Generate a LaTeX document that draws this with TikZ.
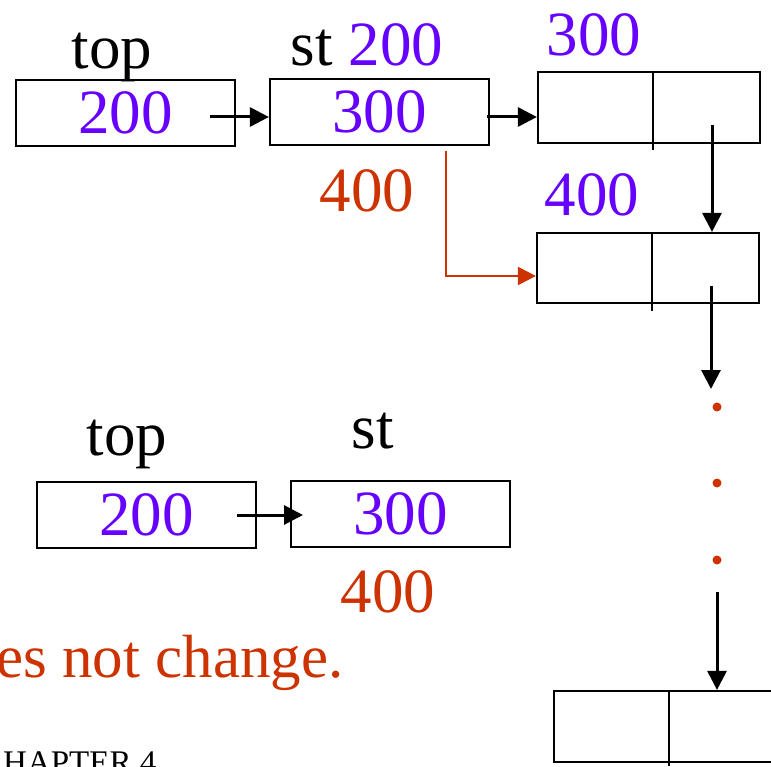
\documentclass[tikz,border=0pt]{standalone}
\usepackage{fontspec}
\setmainfont{Liberation Serif}
\usepackage{tikz}
\usetikzlibrary{arrows.meta, calc, positioning}
\definecolor{NumPurple}{RGB}{102,0,255}
\definecolor{NoteRed}{RGB}{204,51,0}

\begin{document}
\begin{tikzpicture}[x=1pt, y=-1pt,
	cell/.style={draw, line width=2.2pt, minimum width=219pt, minimum height=66pt, inner sep=0pt,
		text=NumPurple, font=\fontsize{63}{63}\selectfont},
	node2/.style={cell, minimum width=222pt, minimum height=71pt},
	lbl/.style={inner sep=0pt, anchor=base, font=\fontsize{63}{63}\selectfont},
	ptr/.style={-{Triangle[length=19pt, width=19pt]}, line width=3pt},
	redptr/.style={-{Triangle[length=18pt, width=18pt]}, line width=2.2pt, NoteRed}]

	\useasboundingbox (0,0) rectangle (771,767);

	% primera fila: top -> st -> 300
	\node[cell] (top1) at (125.5,113) {200};
	\node[cell] (st1) at (379.5,112) {300};
	\node[node2] (n300) at (649,107.5) {};
	\node[node2, minimum height=70pt] (n400) at (648,268) {};
	\node[node2] (nlast) at (665,726.5) {};
	% separadores de los nodos dobles
	\draw[line width=2.2pt] (653,72) -- (653,150);
	\draw[line width=2.2pt] (652,233) -- (652,311);
	\draw[line width=2.2pt] (669,691) -- (669,766);

	\node[lbl] (ltop1) at (112,69) {top};
	\node[lbl] (lst1) at (367,66) {st \textcolor{NumPurple}{200}};
	\node[lbl, text=NumPurple] (a300) at (594,56) {300};
	\node[lbl, text=NumPurple] (a400) at (592,216) {400};
	\node[lbl, text=NoteRed] (r400) at (367,212) {400};

	\coordinate (p1) at (210,117);
	\coordinate (p2) at (487,117);
	\coordinate (d1) at (712,125);
	\coordinate (d2) at (711,286);
	\coordinate (d2e) at (711,389);
	\coordinate (d3) at (717,592);
	\coordinate (r1) at (446,151);
	\coordinate (r2) at (446,276);
	\draw[ptr] (p1) -- (p1 -| st1.west);
	\draw[ptr] (p2) -- (p2 -| n300.west);
	\draw[ptr] (d1) -- (d1 |- n400.north);
	\draw[ptr] (d2) -- (d2e);
	\draw[ptr] (d3) -- (d3 |- nlast.north);
	\draw[redptr] (r1) -- (r2) -- (r2 -| n400.west);

	\foreach \y/\n in {407/1, 483/2, 560/3}
		\node[circle, fill=NoteRed, inner sep=0pt, minimum size=9pt] (dot\n) at (717,\y) {};

	% segunda fila: top -> st
	\node[cell] (top2) at (146.5,515) {200};
	\node[cell] (st2) at (400.5,514) {300};
	\node[lbl] (ltop2) at (127,455) {top};
	\node[lbl] (lst2) at (373,448) {st};
	\node[lbl, text=NoteRed] (r400b) at (388,612) {400};
	\coordinate (q1) at (237,515);
	\coordinate (q2) at (303,515);
	\draw[ptr] (q1) -- (q2);

	\node[lbl, anchor=base west, text=NoteRed, font=\fontsize{61}{61}\selectfont] (note) at (-4,677) {es not change.};
	\node[lbl, anchor=base west, font=\fontsize{33}{33}\selectfont] (chap) at (3,773) {HAPTER 4};
\end{tikzpicture}
\end{document}
